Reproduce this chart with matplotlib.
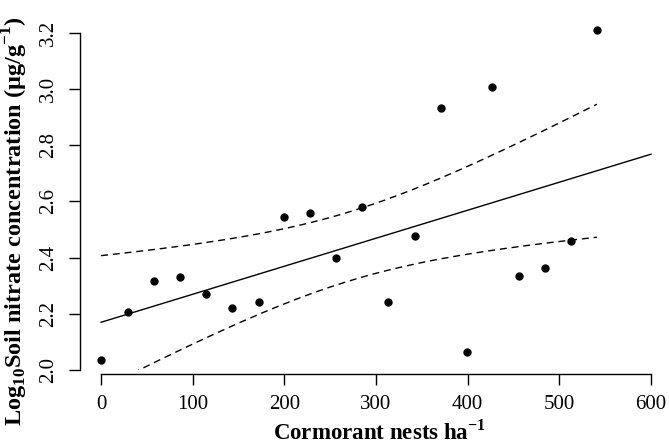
import numpy as np
import matplotlib
matplotlib.use("Agg")
import matplotlib.pyplot as plt

# Data
nests = [0, 29, 57.5, 86, 114, 143, 172, 200, 228, 256,
         285, 313, 342, 371, 399, 427, 456, 484, 513, 541]
log_nitrate = [2.036, 2.207, 2.316, 2.332, 2.272, 2.221, 2.242, 2.545, 2.560, 2.399,
               2.579, 2.242, 2.475, 2.932, 2.064, 3.007, 2.333, 2.362, 2.460, 3.211]
x_ticks = [0, 100, 200, 300, 400, 500, 600]
y_ticks = [2.0, 2.2, 2.4, 2.6, 2.8, 3.0, 3.2]
t_crit = 2.1009  # t(0.975, df=18)

x = np.array(nests, dtype=float)
y = np.array(log_nitrate, dtype=float)
n = len(x)
slope, intercept = np.polyfit(x, y, 1)
resid = y - (intercept + slope * x)
s = np.sqrt(np.sum(resid ** 2) / (n - 2))
sxx = np.sum((x - x.mean()) ** 2)

xl = np.linspace(0, 600, 200)
xb = np.linspace(x.min(), x.max(), 200)
fit_b = intercept + slope * xb
hw = t_crit * s * np.sqrt(1.0 / n + (xb - x.mean()) ** 2 / sxx)

plt.rcParams['font.family'] = ['Liberation Serif', 'DejaVu Serif']
plt.rcParams['mathtext.fontset'] = 'custom'
plt.rcParams['mathtext.rm'] = 'Liberation Serif:bold'
plt.rcParams['mathtext.bf'] = 'Liberation Serif:bold'
fig = plt.figure(figsize=(6.69, 4.45), dpi=100)
ax = fig.add_axes([0.1196, 0.1685, 0.8740, 0.777])

ax.plot(xl, intercept + slope * xl, color='black', lw=1.0)
ax.plot(xb, fit_b + hw, color='black', lw=1.0, ls=(0, (5, 3.5)))
ax.plot(xb, fit_b - hw, color='black', lw=1.0, ls=(0, (5, 3.5)))
ax.plot(x, y, 'o', color='black', ms=5, mec='black')

ax.set_xlim(-23, 615)
ax.set_ylim(2.0, 3.23)

for sp in ['top', 'right']:
    ax.spines[sp].set_visible(False)
ax.spines['bottom'].set_position(('outward', 3))
ax.spines['bottom'].set_bounds(0, 600)
ax.spines['left'].set_bounds(2.0, 3.2)
for sp in ['bottom', 'left']:
    ax.spines[sp].set_linewidth(1.0)

ax.set_xticks(x_ticks)
ax.set_xticklabels([str(v) for v in x_ticks])
ax.set_yticks(y_ticks)
ax.set_yticklabels([f"{v:.1f}" for v in y_ticks], rotation=90, va='center')
ax.tick_params(axis='both', direction='out', length=8, width=1.0, labelsize=15)
ax.tick_params(axis='x', pad=7)
ax.tick_params(axis='y', pad=8)

ax.set_xlabel(r'Cormorant nests ha$^{\mathregular{-1}}$', fontsize=16.5, fontweight='bold')
ax.set_ylabel(r'Log$_{\mathregular{10}}$Soil nitrate concentration ($\mathregular{\mu}$g/g$^{\mathregular{-1}}$)',
              fontsize=17.5, fontweight='bold')
ax.xaxis.set_label_coords(0.513, -0.145)
ax.yaxis.set_label_coords(-0.085, 0.43)

fig.savefig('out.png', dpi=100)
